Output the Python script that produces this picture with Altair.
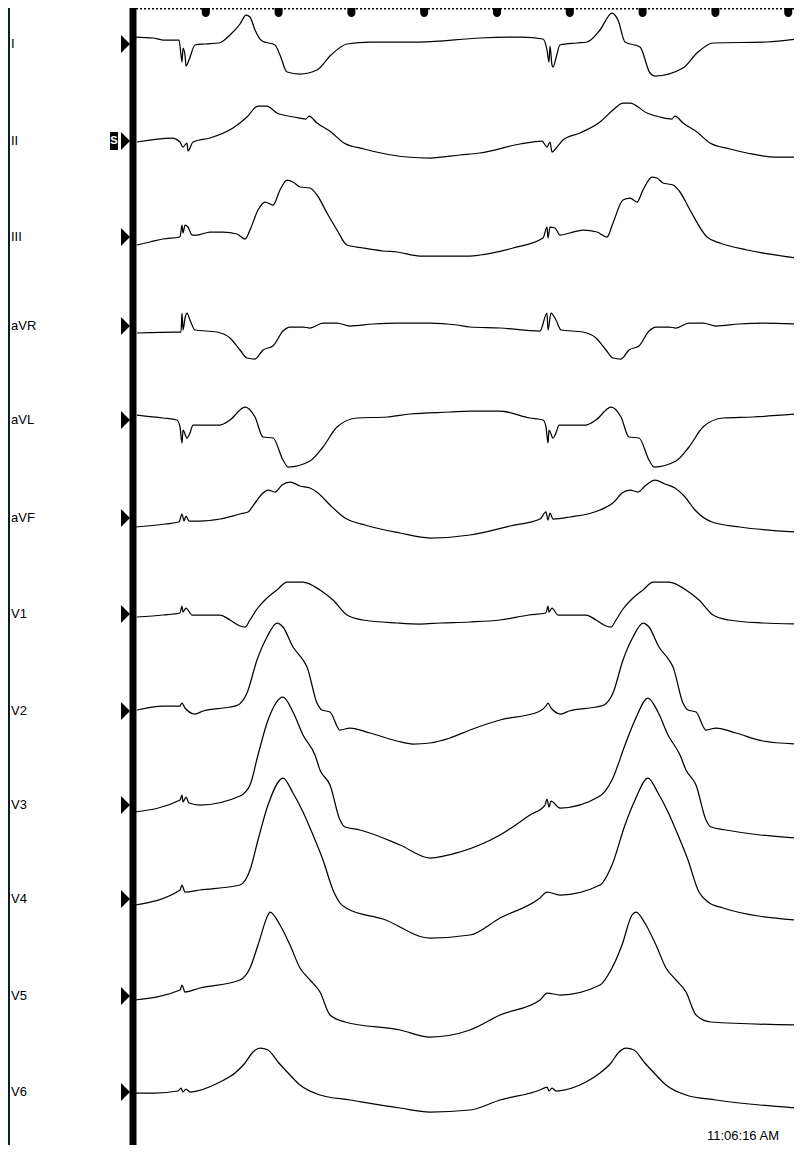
import altair as alt
import pandas as pd

# ---------------- data ----------------
FS = 364  # samples per second (trace start at the calibration bar = sample 0)
LEADS = ["I", "II", "III", "aVR", "aVL", "aVF", "V1", "V2", "V3", "V4", "V5", "V6"]
LEAD_ROW = [44, 141, 237, 326, 420, 518, 614, 711, 805, 899, 996, 1092]  # layout offsets
TICK_S = [0.2, 0.4, 0.6, 0.8, 1.0, 1.2, 1.4, 1.6, 1.8]
TIMESTAMP = "11:06:16 AM"

# samples (n) and amplitude (counts, + = up) for each lead
I_N = [2,20,30,46,48,49,50,52,53,56,62,72,86,97,107,113,117,122,129,142,147,154,167,184,198,214,237,287,347,389,410,414,416,417,419,420,423,427,444,454,467,479,485,492,507,517,522,550,564,580,634,664]
I_A = [7,6,4,4,-11,-18,-4,-11,-22,-16,-1,0,1,9,20,29,27,14,3,-1,-11,-28,-30,-26,-11,0,2,2,6,7,5,-6,-18,-2,-21,-23,-14,-1,1,2,14,31,24,2,-3,-29,-32,-24,-9,1,2,5]

II_N = [4,39,47,50,54,55,60,77,100,114,125,134,144,161,173,176,184,198,211,231,248,274,297,327,347,387,409,414,417,419,424,430,447,467,480,490,497,514,527,539,542,550,564,577,597,614,640,664]
II_A = [-1,3,-1,-6,-2,-10,-1,3,13,24,35,35,28,24,22,25,18,9,-2,-8,-12,-16,-17,-14,-12,-3,0,-6,-1,-11,-6,1,8,19,31,38,38,28,24,22,25,18,9,-2,-8,-12,-16,-16]

III_N = [4,17,30,47,49,50,52,55,59,64,77,90,104,112,117,125,132,140,147,154,160,167,177,184,194,204,214,230,250,264,287,337,347,380,410,414,415,417,422,427,437,450,464,474,480,490,497,504,510,519,524,530,540,547,557,574,587,614,664]
III_A = [-8,-5,-2,0,12,4,12,10,2,2,5,5,3,-2,7,27,35,32,47,57,55,50,49,42,24,7,-8,-11,-14,-15,-19,-19,-18,-11,-1,10,-1,10,9,2,4,7,5,0,14,37,39,35,47,60,59,54,52,45,27,0,-6,-13,-21]

AVR_N = [4,44,48,49,50,52,54,57,62,84,97,107,114,122,130,140,150,157,170,177,190,204,217,240,264,297,324,337,367,407,414,415,418,423,428,450,463,473,480,488,496,506,516,523,536,543,556,570,583,606,630,664]
AVR_A = [-7,-6,-6,13,-4,8,13,6,-4,-6,-12,-24,-32,-33,-24,-20,-5,-1,-1,-2,3,3,0,2,3,3,1,-1,-2,-5,13,-4,13,6,-4,-6,-12,-24,-32,-33,-24,-20,-5,-1,-1,-2,3,3,0,2,3,2]

AVL_N = [4,30,44,47,49,50,54,57,60,87,97,112,122,130,140,150,155,177,190,204,224,254,277,317,337,367,397,410,413,415,416,420,423,426,453,463,478,488,496,506,516,521,543,556,570,590,620,664]
AVL_A = [5,2,0,-7,-23,-10,-18,-13,-5,-5,0,13,3,-17,-18,-40,-47,-41,-27,-7,2,3,6,8,9,9,2,0,-7,-23,-10,-18,-13,-5,-5,0,13,3,-17,-18,-40,-47,-41,-27,-7,2,3,6]

AVF_N = [2,32,46,49,51,53,56,67,87,107,115,122,129,135,142,149,157,167,177,185,197,212,232,267,297,337,377,407,413,415,417,420,437,467,481,489,497,505,512,522,532,542,552,562,579,607,664]
AVF_A = [-9,-6,-4,4,-3,2,-3,-3,-1,4,6,15,24,28,26,33,36,32,30,25,13,0,-7,-15,-20,-17,-8,-1,6,-2,5,-1,1,8,16,25,28,26,32,38,34,30,21,8,-4,-9,-14]

V1_N = [4,30,47,49,50,53,59,87,97,107,112,117,124,134,144,154,170,187,200,214,230,264,287,307,337,367,396,413,415,416,419,425,453,463,473,478,483,490,500,510,520,536,553,566,580,596,630,664]
V1_A = [-3,-1,1,8,2,6,-1,-1,-6,-12,-13,-6,5,16,24,32,32,24,14,-1,-6,-9,-10,-9,-8,-6,-1,1,8,2,6,-1,-1,-6,-12,-13,-6,5,16,24,32,32,24,14,-1,-6,-9,-10]

V2_N = [4,30,47,49,52,62,70,97,105,114,124,134,144,150,160,170,174,184,189,197,207,217,237,264,280,297,317,337,367,405,413,415,418,428,436,463,471,480,490,500,510,516,526,536,540,550,555,563,573,583,603,630,664]
V2_A = [1,5,5,8,3,-3,0,4,6,18,51,74,88,84,64,51,44,8,1,-1,-19,-17,-22,-30,-33,-32,-27,-19,-9,-1,5,8,3,-3,0,4,6,18,51,74,88,84,64,51,44,8,1,-1,-19,-17,-22,-30,-33]

V3_N = [2,47,49,50,53,56,67,107,117,125,135,150,160,170,182,187,197,207,212,227,267,297,327,367,397,412,414,416,418,427,467,479,492,502,515,525,535,547,553,563,573,578,593,627,664]
V3_A = [-7,5,10,3,8,2,0,9,20,50,85,108,93,70,50,35,20,-15,-22,-25,-40,-53,-47,-30,-10,0,6,-2,4,-3,9,25,60,85,107,93,70,50,35,20,-15,-22,-25,-30,-33]

V4_N = [2,47,49,52,67,107,117,125,135,150,160,170,180,190,200,207,215,250,297,337,367,407,414,427,467,479,492,502,515,525,535,545,555,565,575,590,664]
V4_A = [-6,9,14,7,9,14,29,59,94,121,106,87,64,39,9,-4,-10,-20,-39,-36,-19,1,7,4,14,34,74,99,121,106,87,64,39,9,-3,-9,-21]

V5_N = [2,47,49,52,67,107,117,125,135,137,147,157,167,177,187,197,212,267,297,337,367,407,414,427,467,479,489,499,503,513,523,533,543,553,563,578,664]
V5_A = [-4,6,11,4,8,16,28,51,81,84,71,51,28,16,4,-19,-26,-34,-41,-34,-19,-4,3,1,11,28,51,81,84,71,51,28,16,4,-19,-26,-29]

V6_N = [2,22,45,48,50,53,57,87,102,112,120,127,135,145,157,167,187,217,267,297,337,367,407,414,416,419,423,453,467,478,486,493,501,511,523,533,553,583,627,664]
V6_A = [-1,-1,1,4,0,3,0,10,19,29,40,44,42,30,17,7,-3,-8,-16,-20,-18,-8,2,5,1,4,1,10,19,29,40,44,42,30,17,7,-3,-8,-13,-16]

TRACES = [(I_N, I_A), (II_N, II_A), (III_N, III_A), (AVR_N, AVR_A), (AVL_N, AVL_A),
          (AVF_N, AVF_A), (V1_N, V1_A), (V2_N, V2_A), (V3_N, V3_A), (V4_N, V4_A),
          (V5_N, V5_A), (V6_N, V6_A)]

rows = []
for lead, base, (ns, amps) in zip(LEADS, LEAD_ROW, TRACES):
    m = min(len(ns), len(amps))
    for k in range(m):
        rows.append({"lead": lead, "n": ns[k], "y": base - amps[k], "order": k})
trace_df = pd.DataFrame(rows)
lead_df = pd.DataFrame({"lead": LEADS, "row": LEAD_ROW})
tick_df = pd.DataFrame({"n": [t * FS for t in TICK_S]})

# ---------------- scales ----------------
W, H = 786, 1137
xs = alt.Scale(domain=[-125, 661], nice=False, zero=False)
ys = alt.Scale(domain=[8, 1145], nice=False, zero=False, reverse=True)
FONT = "Liberation Sans"

left_strip = alt.Chart(lead_df.head(1)).mark_rect(color="#0b1c30").encode(
    x=alt.value(0), x2=alt.value(2), y=alt.value(0), y2=alt.value(H))

cal_bar = alt.Chart(pd.DataFrame({"n": [0]})).mark_rule(color="black", strokeWidth=7).encode(
    x=alt.X("n:Q", scale=xs, axis=None), y=alt.value(0), y2=alt.value(H))

ruler_dots = alt.Chart(lead_df.head(1)).mark_rule(color="black", strokeWidth=3, strokeDash=[2, 2]).encode(
    x=alt.value(128), x2=alt.value(790), y=alt.value(0))

ruler_major = alt.Chart(tick_df).mark_rect(
    color="black", xOffset=-4, x2Offset=4,
    cornerRadiusBottomLeft=4, cornerRadiusBottomRight=4).encode(
    x=alt.X("n:Q", scale=xs, axis=None), x2="n:Q",
    y=alt.value(-8), y2=alt.value(9))

traces = alt.Chart(trace_df).mark_line(color="black", strokeWidth=1.25, interpolate="monotone").encode(
    x=alt.X("n:Q", scale=xs, axis=None),
    y=alt.Y("y:Q", scale=ys, axis=None),
    detail="lead:N",
    order="order:Q")

labels = alt.Chart(lead_df).mark_text(
    align="left", baseline="middle", fontSize=13, font=FONT, color="black").encode(
    x=alt.value(3), y=alt.Y("row:Q", scale=ys, axis=None), text="lead:N")

markers = alt.Chart(lead_df).mark_point(
    shape="M-0.5,-1L0.5,0L-0.5,1Z", size=324, filled=True, color="black", opacity=1).encode(
    x=alt.value(117.5), y=alt.Y("row:Q", scale=ys, axis=None))

sbox = alt.Chart(lead_df.iloc[[1]]).mark_rect(color="black").encode(
    x=alt.value(102), x2=alt.value(110), y=alt.value(124), y2=alt.value(142))
stext = alt.Chart(pd.DataFrame({"t": ["S"]})).mark_text(
    color="white", fontSize=11, fontWeight="bold", font=FONT, align="center", baseline="middle").encode(
    x=alt.value(106), y=alt.value(133), text="t:N")

stamp = alt.Chart(pd.DataFrame({"t": [TIMESTAMP]})).mark_text(
    align="right", baseline="alphabetic", fontSize=13, font=FONT, color="black").encode(
    x=alt.value(771), y=alt.value(1132), text="t:N")

chart = alt.layer(left_strip, cal_bar, ruler_dots, ruler_major, traces, labels, markers,
                  sbox, stext, stamp).properties(
    width=W, height=H, padding=0,
    autosize=alt.AutoSizeParams(type="none"),
    background="white",
).configure_view(stroke=None)

chart.save("out.html", embed_options={"renderer": "svg", "actions": False})
